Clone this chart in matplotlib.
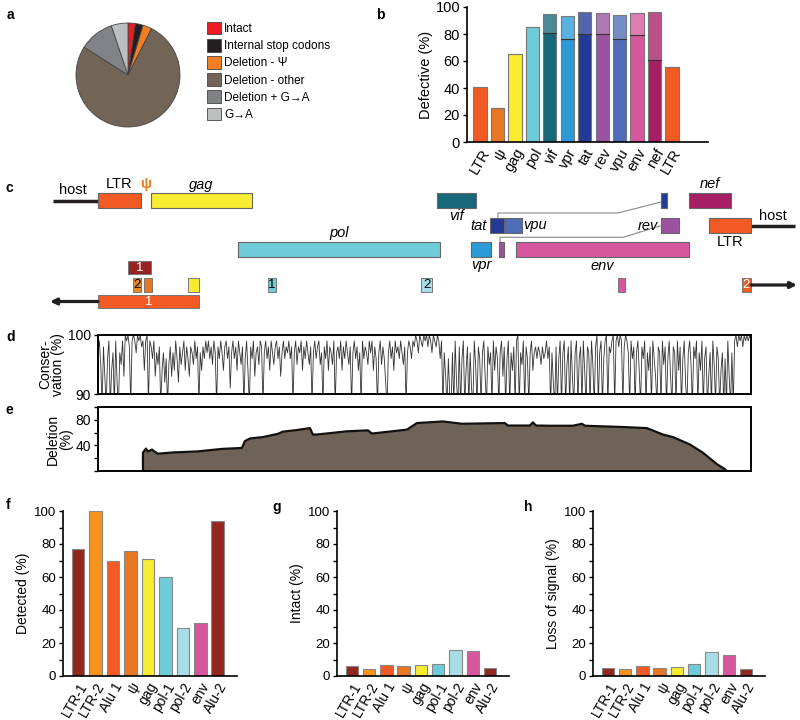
import matplotlib
matplotlib.use('Agg')
import matplotlib.pyplot as plt
import numpy as np
from matplotlib.patches import Rectangle, Patch
from matplotlib.ticker import MultipleLocator
import matplotlib.colors as mcolors

plt.rcParams['font.family'] = ['Liberation Sans', 'DejaVu Sans']

# ---------------- data ----------------
# panel a
pie_labels = ['Intact', 'Internal stop codons', 'Deletion - \u03a8', 'Deletion - other',
              'Deletion + G\u2192A', 'G\u2192A']
pie_values = [2.3, 2.4, 2.8, 76.5, 10.8, 5.2]
pie_colors = ['#ED1C24', '#231F20', '#F07F22', '#726457', '#808285', '#BCBEC0']

# panel b
b_labels = ['LTR', '\u03c8', 'gag', 'pol', 'vif', 'vpr', 'tat', 'rev', 'vpu', 'env', 'nef', 'LTR']
b_lower = [41, 25, 65.5, 85, 81, 76.5, 80, 80, 76.5, 79, 60.5, 55.5]
b_total = [41, 25, 65.5, 85, 94.5, 93.5, 96.5, 95.5, 94, 95.5, 96, 55.5]
b_colors = ['#F15A22', '#E87722', '#F7EC31', '#6ECCD8', '#17687A', '#2B9AD6',
            '#233A96', '#9B52A0', '#4F6CB9', '#D6579E', '#A61E63', '#F15A22']

# panel c: HXB2 gene coordinates (name, start, end, row, color, label side, italic)
genes = [
    ('LTR', 1, 634, 1, '#F15A22', 'above', False),
    ('gag', 790, 2292, 1, '#F7EC31', 'above', True),
    ('pol', 2085, 5096, 3, '#6ECCD8', 'above', True),
    ('vif', 5041, 5619, 1, '#17687A', 'below', True),
    ('vpr', 5559, 5850, 3, '#2B9AD6', 'below', True),
    ('tat', 5831, 6045, 2, '#233A96', 'left', True),
    ('', 8379, 8469, 1, '#233A96', None, True),
    ('', 5970, 6045, 3, '#9B52A0', None, True),
    ('rev', 8379, 8653, 2, '#9B52A0', 'left', True),
    ('vpu', 6062, 6310, 2, '#4F6CB9', 'right', True),
    ('env', 6225, 8795, 3, '#D6579E', 'below', True),
    ('nef', 8797, 9417, 1, '#A61E63', 'above', True),
    ('LTR', 9086, 9719, 2, '#F15A22', 'below', False),
]
# splice connectors (bp x, y)
splices = [
    ([5953, 5953, 7739, 8379], [218, 213, 213, 202]),
    ([5983, 5983, 7813, 8379], [242, 237.3, 237.3, 225.7]),
]
# assay regions (label, start, end, row, color, text color)
assays = [
    ('1', 447, 790, 4, '#962323', 'white'),
    ('2', 522, 641, 5, '#E8892A', 'black'),
    ('', 686, 805, 5, '#E87722', 'black'),
    ('', 1340, 1504, 5, '#F7EC31', 'black'),
    ('1', 2531, 2650, 5, '#6ECCD8', 'black'),
    ('2', 4808, 4971, 5, '#A8DDE8', 'black'),
    ('', 7739, 7843, 5, '#D6579E', 'black'),
    ('2', 9584, 9718, 5, '#F15A22', 'white'),
    ('1', 1, 1504, 6, '#F15A22', 'white'),
]

# panel d: conservation (%) per window along genome
conservation = [
    97, 99, 95, 88, 98, 93, 88, 96, 99, 88, 94, 97, 88, 99, 92, 88, 97, 95, 99, 93,
    100, 99, 100, 98, 88, 99, 100, 99, 97, 100, 99, 100, 98, 99, 94, 99, 100, 88, 99, 98,
    96, 99, 93, 97, 95, 98, 88, 94, 97, 92, 96, 88, 95, 98, 93, 97, 94, 99, 96, 92,
    98, 95, 97, 99, 94, 98, 96, 93, 98, 97, 95, 99, 96, 98, 88, 97, 94, 98, 96, 99,
    97, 99, 96, 98, 95, 99, 97, 88, 98, 96, 99, 97, 94, 98, 99, 96, 98, 91, 97, 99,
    96, 98, 94, 99, 97, 95, 98, 88, 96, 99, 94, 88, 98, 96, 99, 93, 97, 98, 95, 99,
    98, 88, 97, 99, 96, 98, 94, 99, 97, 95, 98, 99, 96, 98, 93, 97, 99, 96, 98, 97,
    99, 96, 98, 88, 97, 99, 95, 98, 97, 99, 94, 98, 96, 99, 97, 95, 98, 88, 97, 99,
    96, 98, 99, 95, 97, 88, 98, 96, 99, 94, 98, 97, 95, 99, 88, 97, 98, 96, 99, 94,
    98, 96, 99, 97, 95, 98, 88, 97, 99, 96, 98, 94, 97, 88, 99, 96, 98, 97, 95, 99,
    97, 99, 94, 98, 96, 88, 97, 99, 95, 98, 96, 92, 88, 97, 99, 96, 98, 94, 99, 97,
    98, 96, 99, 97, 95, 98, 88, 97, 99, 98, 96, 99, 98, 100, 99, 97, 100, 99, 98, 100,
    99, 100, 98, 100, 99, 97, 100, 99, 98, 100, 99, 96, 99, 88, 97, 93, 88, 96, 90, 88,
    97, 88, 99, 92, 88, 98, 88, 96, 99, 88, 94, 98, 88, 97, 91, 88, 99, 95, 88, 98,
    96, 88, 97, 99, 93, 88, 98, 95, 97, 88, 99, 94, 98, 96, 88, 97, 99, 93, 98, 88,
    96, 99, 88, 97, 94, 98, 88, 99, 100, 88, 97, 95, 99, 88, 98, 96, 88, 97, 99, 94,
    97, 98, 96, 98, 97, 95, 98, 96, 97, 99, 96, 98, 88, 97, 92, 88, 98, 88, 96, 99,
    88, 97, 99, 88, 95, 98, 88, 99, 93, 88, 97, 99, 88, 96, 98, 88, 99, 94, 88, 98,
    97, 88, 99, 95, 88, 98, 100, 88, 97, 99, 88, 96, 99, 100, 88, 98, 97, 99, 100, 88,
    99, 100, 98, 100, 99, 88, 98, 100, 99, 97, 88, 99, 96, 98, 88, 97, 99, 94, 88, 98,
    96, 99, 88, 97, 94, 98, 88, 99, 96, 93, 88, 98, 97, 88, 99, 95, 98, 88, 96, 99,
    93, 88, 98, 97, 88, 99, 94, 98, 88, 96, 99, 92, 88, 97, 99, 95, 88, 98, 96, 99,
    88, 97, 94, 99, 88, 96, 98, 88, 93, 97, 88, 99, 95, 88, 98, 96, 88, 94, 97, 88,
    96, 88, 99, 93, 88, 97, 88, 99, 100, 98, 100, 99, 100, 98, 100, 99, 100, 99, 100, 99,
]

# panel e: deletion (%) along genome (bp, value)
del_pos = [670, 670, 714, 744, 804, 833, 893, 1116, 1473, 1845, 2143, 2187, 2262, 2455,
           2678, 2753, 2961, 3155, 3199, 3259, 3705, 4018, 4077, 4598, 4747, 5134, 5416,
           6056, 6101, 6428, 6473, 6520, 6726, 7068, 7202, 7250, 7812, 8169, 8407, 8556,
           8809, 9002, 9210, 9329, 9359]
del_val = [0, 28.7, 35, 30.5, 33.5, 31, 27, 29, 30.5, 34.5, 36, 46.7, 50.8, 53,
           58, 61.5, 64, 67, 57, 57, 62, 63.5, 58.5, 64.6, 74.9, 77.4, 73.8,
           74.9, 71, 71, 76, 71, 70.7, 70.7, 73.8, 70.7, 68.7, 67, 57, 53,
           41.5, 28.7, 10.8, 3, 0]

# panels f, g, h
fgh_labels = ['LTR-1', 'LTR-2', 'Alu 1', '\u03c8', 'gag', 'pol-1', 'pol-2', 'env', 'Alu-2']
fgh_colors = ['#922720', '#F7941D', '#F15A22', '#E87722', '#F7EC31', '#6ECCD8',
              '#A8DDE8', '#D6579E', '#922720']
detected = [77, 100, 70, 76, 71, 60, 29, 32, 94]
intact = [6, 4.5, 6.5, 6, 6.5, 7.5, 16, 15, 5]
loss_signal = [5, 4, 6, 5, 5.5, 7, 14.5, 13, 4.5]

# ---------------- layout helpers ----------------
W, H = 800, 720
fig = plt.figure(figsize=(8, 7.2), dpi=100)


def add_ax(l, t, r, b):
    return fig.add_axes([l / W, 1 - b / H, (r - l) / W, (b - t) / H])


def letter(x, y, s):
    fig.text(x / W, 1 - y / H, s, fontsize=10, fontweight='bold', va='center', ha='left')


def lighten(c, f):
    r, g, b = mcolors.to_rgb(c)
    return (r + (1 - r) * f, g + (1 - g) * f, b + (1 - b) * f)


letter(7, 15, 'a')
letter(376, 15, 'b')
letter(6, 188, 'c')
letter(6, 337, 'd')
letter(6, 410, 'e')
letter(6, 505, 'f')
letter(272, 507, 'g')
letter(524, 507, 'h')

# ---------------- panel a ----------------
ax_a = add_ax(63, 10, 193, 140)
ax_a.pie(pie_values, colors=pie_colors, startangle=90, counterclock=False,
         wedgeprops=dict(edgecolor='#444444', linewidth=0.6))
ax_a.set_aspect('equal')
handles = [Patch(facecolor=c, edgecolor='#444444', linewidth=0.6) for c in pie_colors]
fig.legend(handles, pie_labels, loc='upper left', bbox_to_anchor=(207 / W, 1 - 22 / H),
           frameon=False, fontsize=8.5, handlelength=1.15, handleheight=1.25,
           handletextpad=0.3, labelspacing=0.33, borderaxespad=0, borderpad=0)

# ---------------- panel b ----------------
ax_b = add_ax(467, 7, 708, 142)
xb = np.arange(len(b_labels))
ax_b.bar(xb, b_lower, width=0.76, color=b_colors, edgecolor='#777777', linewidth=0.8)
upper = [t - l for t, l in zip(b_total, b_lower)]
ax_b.bar(xb, upper, bottom=b_lower, width=0.76, color=[lighten(c, 0.22) for c in b_colors],
         edgecolor='#777777', linewidth=0.8)
for i in xb:
    if upper[i] > 0:
        ax_b.plot([i - 0.38, i + 0.38], [b_lower[i], b_lower[i]], color='#333333', lw=0.8)
ax_b.set_xlim(-0.75, 13.07)
ax_b.set_ylim(0, 100)
ax_b.set_yticks(range(0, 101, 20))
ax_b.set_xticks(xb)
ax_b.set_xticklabels(b_labels, rotation=60, ha='right', rotation_mode='anchor', fontsize=10.5)
ax_b.tick_params(axis='y', labelsize=10.5, length=3, width=1, pad=2)
ax_b.tick_params(axis='x', length=0, pad=3)
ax_b.set_ylabel('Defective (%)', fontsize=10.5, labelpad=2)
for s in ['top', 'right']:
    ax_b.spines[s].set_visible(False)
for s in ['left', 'bottom']:
    ax_b.spines[s].set_linewidth(1.2)

# ---------------- panel c ----------------
ax_c = add_ax(0, 160, 800, 315)
BP_PER_PX = 1 / 0.0672
ax_c.set_xlim(1 - 98 * BP_PER_PX, 1 + 702 * BP_PER_PX)
ax_c.set_ylim(315, 160)
ax_c.axis('off')
row_y = {1: 200.5, 2: 225.5, 3: 249.5, 4: 267.5, 5: 285, 6: 301.5}
gh = 15

# host flanks
ax_c.plot([1 - 45 * BP_PER_PX, 1], [row_y[1], row_y[1]], color='#231F20', lw=2.5, solid_capstyle='butt')
ax_c.plot([9719, 9719 + 44 * BP_PER_PX], [row_y[2], row_y[2]], color='#231F20', lw=2.5, solid_capstyle='butt')
ax_c.text(1 - 25 * BP_PER_PX, row_y[1] - 3, 'host', fontsize=10.5, ha='center', va='bottom')
ax_c.text(9719 + 22 * BP_PER_PX, row_y[2] - 3, 'host', fontsize=10.5, ha='center', va='bottom')

for xs, ys in splices:
    ax_c.plot(xs, ys, color='#888888', lw=0.8, zorder=1)

for name, s, e, r, c, side, ital in genes:
    yc = row_y[r]
    ax_c.add_patch(Rectangle((s, yc - gh / 2), e - s, gh, facecolor=c, edgecolor='#666666',
                             lw=0.8, zorder=2))
    style = 'italic' if ital else 'normal'
    if side == 'above':
        ax_c.text((s + e) / 2, yc - gh / 2 - 1.5, name, ha='center', va='bottom',
                  fontsize=10.5, style=style)
    elif side == 'below':
        ax_c.text((s + e) / 2, yc + gh / 2 + 1.5, name, ha='center', va='top',
                  fontsize=10.5, style=style)
    elif side == 'left':
        ax_c.text(s - 3 * BP_PER_PX, yc, name, ha='right', va='center', fontsize=10.5, style=style)
    elif side == 'right':
        ax_c.text(e + 1.5 * BP_PER_PX, yc, name, ha='left', va='center', fontsize=10.5, style=style)

ax_c.text(715, 184, '\u03c8', color='#F07F22', fontsize=10.5, fontweight='bold', ha='center', va='center')

for lab, s, e, r, c, tc in assays:
    yc = row_y[r]
    hh = 13.5
    ax_c.add_patch(Rectangle((s, yc - hh / 2), e - s, hh, facecolor=c, edgecolor='#777777',
                             lw=0.7, zorder=2))
    if lab:
        ax_c.text((s + e) / 2, yc + 0.5, lab, color=tc, fontsize=9.5, ha='center', va='center', zorder=3)

ax_c.annotate('', xy=(1 - 48 * BP_PER_PX, row_y[6]), xytext=(1, row_y[6]),
              arrowprops=dict(arrowstyle='-|>', lw=2.3, color='#231F20', mutation_scale=9,
                              shrinkA=0, shrinkB=0))
ax_c.annotate('', xy=(9718 + 46 * BP_PER_PX, row_y[5]), xytext=(9718, row_y[5]),
              arrowprops=dict(arrowstyle='-|>', lw=2.3, color='#231F20', mutation_scale=9,
                              shrinkA=0, shrinkB=0))

# ---------------- panel d ----------------
ax_d = add_ax(98, 335, 751, 394)
cons_x = np.linspace(1, 9719, len(conservation))
ax_d.plot(cons_x, conservation, color='#333333', lw=0.6)
ax_d.set_xlim(1, 9719)
ax_d.set_ylim(90, 100)
ax_d.set_yticks([90, 100])
ax_d.set_xticks([])
ax_d.tick_params(axis='y', labelsize=10, length=3, width=1, pad=2)
ax_d.set_ylabel('Conser-\nvation (%)', fontsize=10, labelpad=2, linespacing=0.9)
for s in ax_d.spines.values():
    s.set_linewidth(1.4)

# ---------------- panel e ----------------
ax_e = add_ax(98, 407, 751, 471)
ax_e.fill_between(del_pos, del_val, 0, color='#6F6256', lw=0)
ax_e.plot(del_pos, del_val, color='#111111', lw=1.6)
ax_e.set_xlim(1, 9719)
ax_e.set_ylim(0, 100)
ax_e.set_yticks([40, 80])
ax_e.yaxis.set_minor_locator(MultipleLocator(20))
ax_e.set_xticks([])
ax_e.tick_params(axis='y', which='both', labelsize=10, length=3, width=1, pad=2)
ax_e.set_ylabel('Deletion\n(%)', fontsize=10, labelpad=2, linespacing=0.9)
for s in ax_e.spines.values():
    s.set_linewidth(1.4)


# ---------------- panels f, g, h ----------------
def bar_panel(l, r, vals, ylabel):
    ax = add_ax(l, 511, r, 676)
    x = np.arange(len(fgh_labels))
    ax.bar(x, vals, width=0.72, color=fgh_colors, edgecolor='#888888', linewidth=0.8)
    ax.set_xlim(-0.86, 9.1)
    ax.set_ylim(0, 100)
    ax.set_yticks(range(0, 101, 20))
    ax.yaxis.set_minor_locator(MultipleLocator(10))
    ax.set_xticks(x)
    ax.set_xticklabels(fgh_labels, rotation=60, ha='right', rotation_mode='anchor', fontsize=10)
    ax.tick_params(axis='y', which='both', labelsize=9.5, length=3, width=1, pad=2)
    ax.tick_params(axis='x', length=0, pad=3)
    ax.set_ylabel(ylabel, fontsize=10, labelpad=3)
    for s in ['top', 'right']:
        ax.spines[s].set_visible(False)
    for s in ['left', 'bottom']:
        ax.spines[s].set_linewidth(1.2)
    return ax


bar_panel(63, 237, detected, 'Detected (%)')
bar_panel(337, 509, intact, 'Intact (%)')
bar_panel(593, 765, loss_signal, 'Loss of signal (%)')

fig.savefig('out.png', dpi=100)
